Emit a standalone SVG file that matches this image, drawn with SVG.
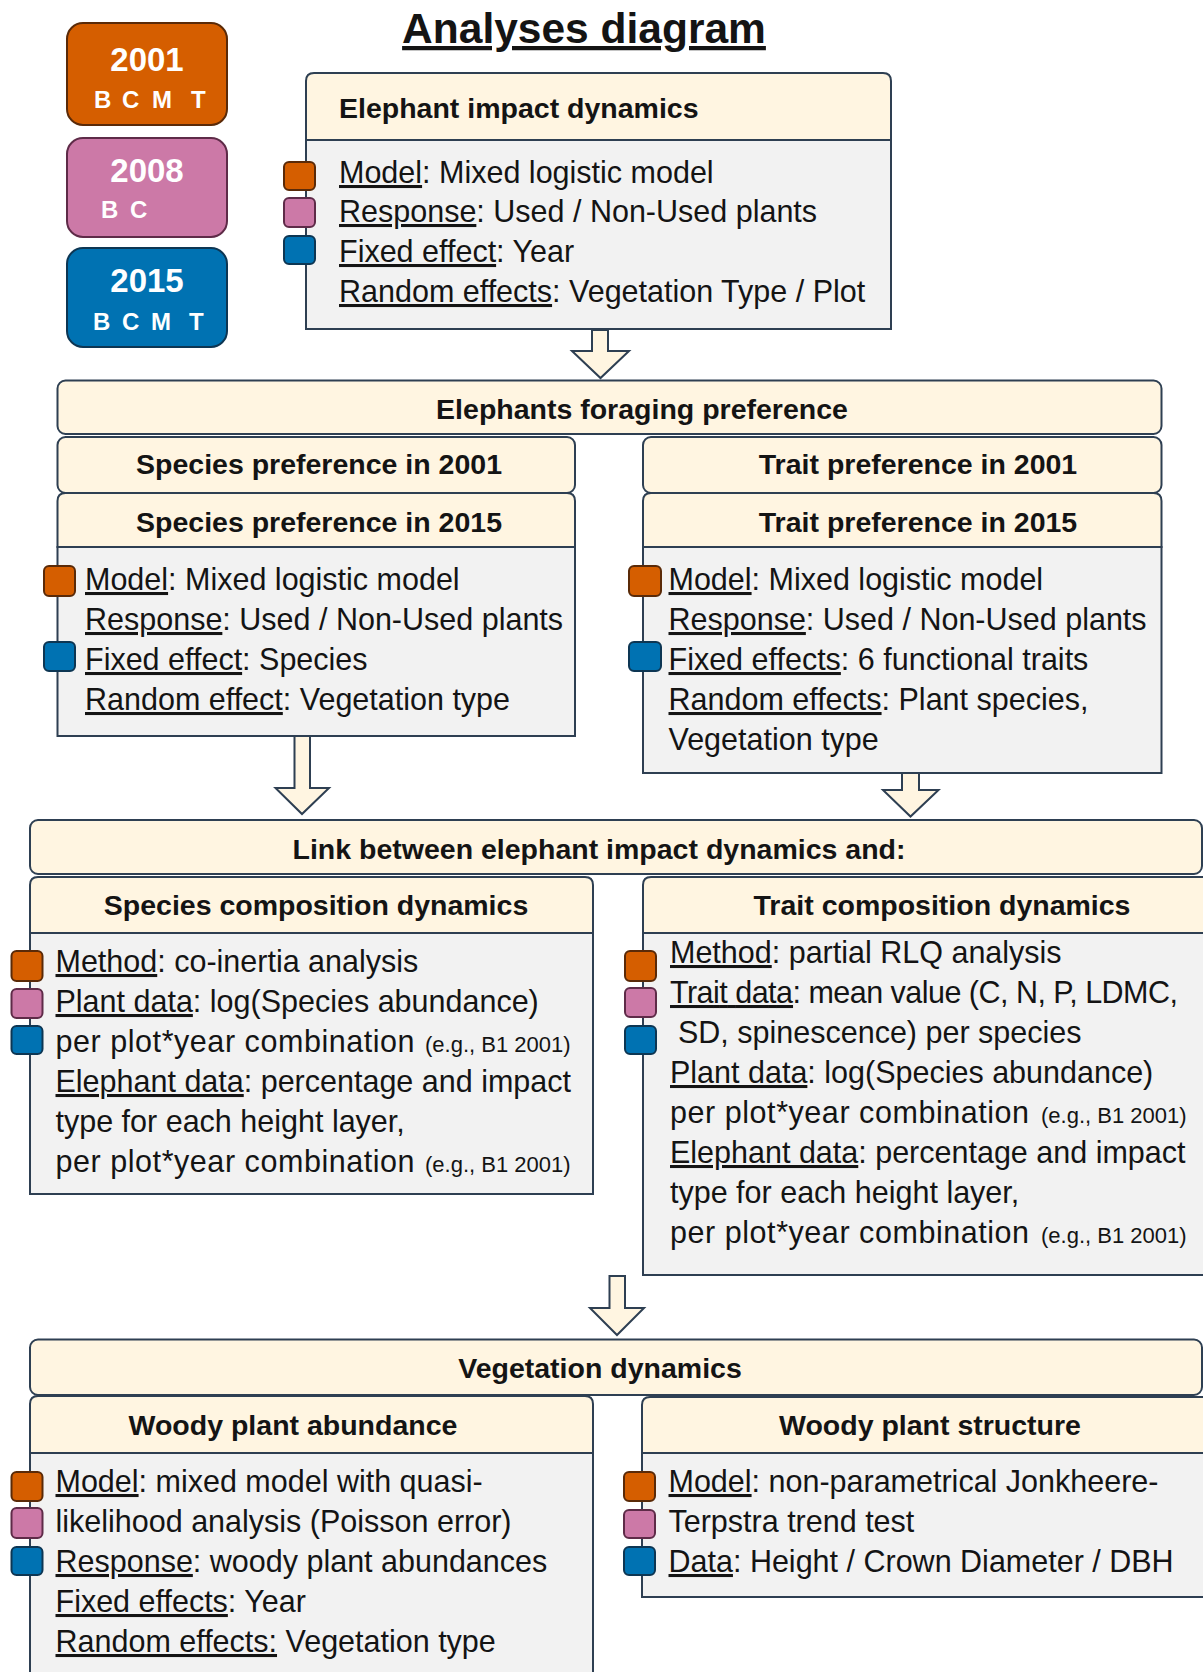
<svg xmlns="http://www.w3.org/2000/svg" width="1203" height="1672" viewBox="0 0 1203 1672">
<style>
.hdr{fill:#FFF5E1;stroke:#2E3F52;stroke-width:2}
.bd{fill:#F2F2F2;stroke:#2E3F52;stroke-width:2}
.arr{fill:#FFF5E1;stroke:#2E3F52;stroke-width:2;stroke-linejoin:miter}
text{font-family:"Liberation Sans",Arial,sans-serif;fill:#141414}
.t{font-size:30.5px}
.h{font-size:28.5px;font-weight:bold;text-anchor:middle}
.u{text-decoration:underline}
.s{font-size:22px;letter-spacing:0}
.pp{letter-spacing:0.55px}
.sqo{fill:#D55E00;stroke:#5A2A08;stroke-width:2}
.sqp{fill:#CC79A7;stroke:#5E2B48;stroke-width:2}
.sqb{fill:#0072B2;stroke:#0D3653;stroke-width:2}
.lg{font-weight:bold;fill:#FFFFFF}
.yr{font-size:33px;text-anchor:middle}
.lt{font-size:24px}
</style>

<text x="584" y="43" style="font-size:42.5px;font-weight:bold;text-anchor:middle;text-decoration:underline">Analyses diagram</text>

<g id="legend-2001">
<rect class="sqo" x="67" y="23" width="160" height="102" rx="16"/>
<text class="lg yr" x="147" y="71">2001</text>
<text class="lg lt" x="94 110 122 138 152 176 191" y="108">B C M T</text>
</g>
<g id="legend-2008">
<rect class="sqp" x="67" y="138" width="160" height="99" rx="16"/>
<text class="lg yr" x="147" y="182">2008</text>
<text class="lg lt" x="101 118 130" y="218">B C</text>
</g>
<g id="legend-2015">
<rect class="sqb" x="67" y="248" width="160" height="99" rx="16"/>
<text class="lg yr" x="147" y="292">2015</text>
<text class="lg lt" x="93 109 122 138 151 176 189" y="330">B C M T</text>
</g>

<g id="connectors">
<polygon class="arr" points="592,330 608,330 608,351 629,351 600.5,378 572,351 592,351"/>
<polygon class="arr" points="294.5,736 310,736 310,788 329,788 302,814 275.5,788 294.5,788"/>
<polygon class="arr" points="902,773 919,773 919,790 938.5,790 910.5,816.5 883,790 902,790"/>
<polygon class="arr" points="609.5,1276 625,1276 625,1308 644,1308 617,1335 590,1308 609.5,1308"/>
</g>

<g id="elephant-impact-dynamics">
<rect class="bd" x="306" y="140" width="585" height="189"/>
<path class="hdr" d="M306,140 V81 Q306,73 314,73 H883 Q891,73 891,81 V140 Z"/>
<text x="339" y="118" style="font-size:28.5px;font-weight:bold">Elephant impact dynamics</text>
<text class="t" x="339" y="183"><tspan class="u">Model</tspan>: Mixed logistic model</text>
<text class="t" x="339" y="222"><tspan class="u">Response</tspan>: Used / Non-Used plants</text>
<text class="t" x="339" y="262"><tspan class="u">Fixed effect</tspan>: Year</text>
<text class="t" x="339" y="302"><tspan class="u">Random effects</tspan>: Vegetation Type / Plot</text>
<rect class="sqo" x="284" y="162" width="31" height="28" rx="5"/>
<rect class="sqp" x="284" y="198" width="31" height="29" rx="5"/>
<rect class="sqb" x="284" y="236" width="31" height="28" rx="5"/>
</g>

<g id="foraging-preference">
<rect class="hdr" x="57.5" y="380.5" width="1104" height="53.5" rx="8"/>
<text class="h" x="642" y="419">Elephants foraging preference</text>
</g>

<g id="species-preference-2001">
<rect class="hdr" x="57.5" y="437" width="517.5" height="56" rx="8"/>
<text class="h" x="319" y="474">Species preference in 2001</text>
</g>

<g id="species-preference-2015">
<rect class="bd" x="57.5" y="547" width="517.5" height="189"/>
<path class="hdr" d="M57.5,547 V501 Q57.5,493 65.5,493 H567 Q575,493 575,501 V547 Z"/>
<text class="h" x="319" y="532">Species preference in 2015</text>
<text class="t" x="85" y="590"><tspan class="u">Model</tspan>: Mixed logistic model</text>
<text class="t" x="85" y="630"><tspan class="u">Response</tspan>: Used / Non-Used plants</text>
<text class="t" x="85" y="670"><tspan class="u">Fixed effect</tspan>: Species</text>
<text class="t" x="85" y="710"><tspan class="u">Random effect</tspan>: Vegetation type</text>
<rect class="sqo" x="44" y="566" width="31" height="30" rx="5"/>
<rect class="sqb" x="44" y="642" width="31" height="29" rx="5"/>
</g>

<g id="trait-preference-2001">
<rect class="hdr" x="643" y="437" width="518.5" height="56" rx="8"/>
<text class="h" x="918" y="474">Trait preference in 2001</text>
</g>

<g id="trait-preference-2015">
<rect class="bd" x="643" y="547" width="518.5" height="226"/>
<path class="hdr" d="M643,547 V501 Q643,493 651,493 H1153.5 Q1161.5,493 1161.5,501 V547 Z"/>
<text class="h" x="918" y="532">Trait preference in 2015</text>
<text class="t" x="668.5" y="590"><tspan class="u">Model</tspan>: Mixed logistic model</text>
<text class="t" x="668.5" y="630"><tspan class="u">Response</tspan>: Used / Non-Used plants</text>
<text class="t" x="668.5" y="670"><tspan class="u">Fixed effects</tspan>: 6 functional traits</text>
<text class="t" x="668.5" y="710"><tspan class="u">Random effects</tspan>: Plant species,</text>
<text class="t" x="668.5" y="750">Vegetation type</text>
<rect class="sqo" x="629" y="566" width="32" height="30" rx="5"/>
<rect class="sqb" x="629" y="642" width="32" height="29" rx="5"/>
</g>

<g id="link-elephant-impact">
<rect class="hdr" x="30" y="820" width="1172" height="54" rx="8"/>
<text class="h" x="599" y="859">Link between elephant impact dynamics and:</text>
</g>

<g id="species-composition-dynamics">
<rect class="bd" x="30" y="933" width="563" height="261"/>
<path class="hdr" d="M30,933 V885 Q30,877 38,877 H585 Q593,877 593,885 V933 Z"/>
<text class="h" x="316" y="915">Species composition dynamics</text>
<text class="t" x="55.5" y="972"><tspan class="u">Method</tspan>: co-inertia analysis</text>
<text class="t" x="55.5" y="1012"><tspan class="u">Plant data</tspan>: log(Species abundance)</text>
<text class="t pp" x="55.5" y="1052">per plot*year combination <tspan class="s" x="425">(e.g., B1 2001)</tspan></text>
<text class="t" x="55.5" y="1092"><tspan class="u">Elephant data</tspan>: percentage and impact</text>
<text class="t" x="55.5" y="1132">type for each height layer,</text>
<text class="t pp" x="55.5" y="1172">per plot*year combination <tspan class="s" x="425">(e.g., B1 2001)</tspan></text>
<rect class="sqo" x="11.5" y="951" width="31" height="30" rx="5"/>
<rect class="sqp" x="11.5" y="989" width="31" height="29" rx="5"/>
<rect class="sqb" x="11.5" y="1026" width="31" height="28" rx="5"/>
</g>

<g id="trait-composition-dynamics">
<rect class="bd" x="643" y="933" width="572" height="342"/>
<path class="hdr" d="M643,933 V885 Q643,877 651,877 H1207 Q1215,877 1215,885 V933 Z"/>
<text class="h" x="942" y="915">Trait composition dynamics</text>
<text class="t" x="670" y="963"><tspan class="u">Method</tspan>: partial RLQ analysis</text>
<text class="t" x="670" y="1003" textLength="508" lengthAdjust="spacing"><tspan class="u">Trait data</tspan>: mean value (C, N, P, LDMC,</text>
<text class="t" x="678" y="1043">SD, spinescence) per species</text>
<text class="t" x="670" y="1083"><tspan class="u">Plant data</tspan>: log(Species abundance)</text>
<text class="t pp" x="670" y="1123">per plot*year combination <tspan class="s" x="1041">(e.g., B1 2001)</tspan></text>
<text class="t" x="670" y="1163"><tspan class="u">Elephant data</tspan>: percentage and impact</text>
<text class="t" x="670" y="1203">type for each height layer,</text>
<text class="t pp" x="670" y="1243">per plot*year combination <tspan class="s" x="1041">(e.g., B1 2001)</tspan></text>
<rect class="sqo" x="625" y="951" width="31" height="30" rx="5"/>
<rect class="sqp" x="625" y="988" width="31" height="29" rx="5"/>
<rect class="sqb" x="625" y="1026" width="31" height="28" rx="5"/>
</g>

<g id="vegetation-dynamics">
<rect class="hdr" x="30" y="1339.5" width="1172" height="55.5" rx="8"/>
<text class="h" x="600" y="1378">Vegetation dynamics</text>
</g>

<g id="woody-plant-abundance">
<rect class="bd" x="30" y="1453" width="563" height="240"/>
<path class="hdr" d="M30,1453 V1404 Q30,1396 38,1396 H585 Q593,1396 593,1404 V1453 Z"/>
<text class="h" x="293" y="1435">Woody plant abundance</text>
<text class="t" x="55.5" y="1492"><tspan class="u">Model</tspan>: mixed model with quasi-</text>
<text class="t" x="55.5" y="1532">likelihood analysis (Poisson error)</text>
<text class="t" x="55.5" y="1572"><tspan class="u">Response</tspan>: woody plant abundances</text>
<text class="t" x="55.5" y="1612"><tspan class="u">Fixed effects</tspan>: Year</text>
<text class="t" x="55.5" y="1652"><tspan class="u">Random effects:</tspan> Vegetation type</text>
<rect class="sqo" x="11.5" y="1472" width="31" height="29" rx="5"/>
<rect class="sqp" x="11.5" y="1508" width="31" height="30" rx="5"/>
<rect class="sqb" x="11.5" y="1547" width="31" height="28" rx="5"/>
</g>

<g id="woody-plant-structure">
<rect class="bd" x="642" y="1453" width="573" height="144"/>
<path class="hdr" d="M642,1453 V1405 Q642,1397 650,1397 H1207 Q1215,1397 1215,1405 V1453 Z"/>
<text class="h" x="930" y="1435">Woody plant structure</text>
<text class="t" x="668.5" y="1492"><tspan class="u">Model</tspan>: non-parametrical Jonkheere-</text>
<text class="t" x="668.5" y="1532">Terpstra trend test</text>
<text class="t" x="668.5" y="1572"><tspan class="u">Data</tspan>: Height / Crown Diameter / DBH</text>
<rect class="sqo" x="624" y="1472" width="31" height="29" rx="5"/>
<rect class="sqp" x="624" y="1510" width="31" height="28" rx="5"/>
<rect class="sqb" x="624" y="1547" width="31" height="28" rx="5"/>
</g>
</svg>
